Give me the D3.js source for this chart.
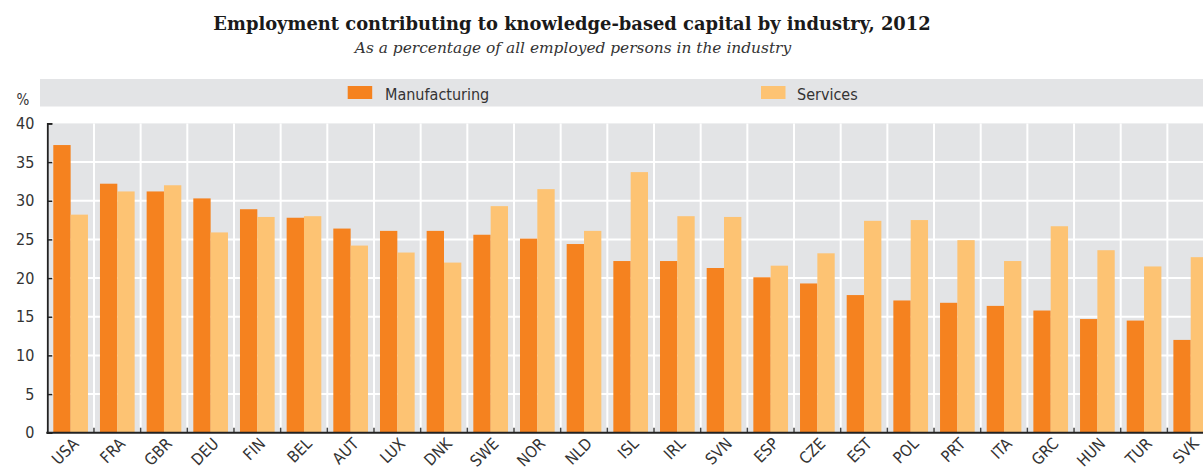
<!DOCTYPE html>
<html>
<head>
<meta charset="utf-8">
<script src="https://cdn.jsdelivr.net/npm/d3@7"></script>
<style>
  html, body { margin: 0; padding: 0; background: #fff; }
  svg { display: block; }
</style>
</head>
<body>
<svg id="chart" width="1203" height="473"></svg>
<script>
// ---- Data ----
const countries = ["USA","FRA","GBR","DEU","FIN","BEL","AUT","LUX","DNK","SWE","NOR","NLD","ISL","IRL","SVN","ESP","CZE","EST","POL","PRT","ITA","GRC","HUN","TUR","SVK"];
const manufacturing = [37.2,32.2,31.2,30.3,28.9,27.8,26.4,26.1,26.1,25.6,25.1,24.4,22.2,22.2,21.3,20.1,19.3,17.8,17.1,16.8,16.4,15.8,14.7,14.5,12.0];
const services      = [28.2,31.2,32.0,25.9,27.9,28.0,24.2,23.3,22.0,29.3,31.5,26.1,33.7,28.0,27.9,21.6,23.2,27.4,27.5,24.9,22.2,26.7,23.6,21.5,22.7];
const seriesNames = ["Manufacturing","Services"];
const yTicks = [0,5,10,15,20,25,30,35,40];
const titleText = "Employment contributing to knowledge-based capital by industry, 2012";
const subtitleText = "As a percentage of all employed persons in the industry";

// ---- Style ----
const colors = { "Manufacturing": "#F5821F", "Services": "#FDC373" };
const gridBg = "#E3E4E6";
const narrow = "'Liberation Sans Narrow', 'DejaVu Sans Condensed', 'Arial Narrow', sans-serif";
const serif = "'DejaVu Serif', 'Liberation Serif', serif";

const svg = d3.select("#chart");
const plotLeft = 47.3, plotTop = 123.4, plotBottom = 432.7;
const bandW = 46.67;
const plotRight = plotLeft + bandW * countries.length;

const x = d3.scaleBand().domain(countries).range([plotLeft, plotRight]).padding(0);
const xInner = d3.scaleBand().domain(seriesNames).range([6, x.bandwidth() - 6]).padding(0);
const y = d3.scaleLinear().domain([0, 40]).range([plotBottom, plotTop]);

// Title
const title = svg.append("text")
  .attr("x", 572).attr("y", 30)
  .attr("text-anchor", "middle")
  .style("font-family", serif).style("font-weight", "bold")
  .style("font-size", "19px").attr("fill", "#1a1a1a")
  .text(titleText);
{
  const w = title.node().getComputedTextLength();
  title.style("font-size", (19 * 718 / w) + "px");
}
const sub = svg.append("text")
  .attr("x", 573).attr("y", 53)
  .attr("text-anchor", "middle")
  .style("font-family", serif).style("font-style", "italic")
  .style("font-size", "14px").attr("fill", "#333")
  .text(subtitleText);
{
  const w = sub.node().getComputedTextLength();
  sub.style("font-size", (14 * 437 / w) + "px");
}

// Legend band
svg.append("rect").attr("x", 40).attr("y", 79).attr("width", 1203 - 40).attr("height", 27.5).attr("fill", gridBg);
const legendPos = [{sx: 347.7, tx: 385}, {sx: 761, tx: 797}];
seriesNames.forEach((s, i) => {
  svg.append("rect").attr("x", legendPos[i].sx).attr("y", 86).attr("width", 24.5).attr("height", 13).attr("fill", colors[s]);
  svg.append("text").attr("x", legendPos[i].tx).attr("y", 99.5)
    .style("font-family", narrow).style("font-size", "16px").attr("fill", "#333").text(s);
});

// Y unit label
svg.append("text").attr("x", 23).attr("y", 105).attr("text-anchor", "middle")
  .style("font-family", narrow).style("font-size", "15px").attr("fill", "#333").text("%");

// Plot background
svg.append("rect").attr("x", plotLeft).attr("y", plotTop).attr("width", plotRight - plotLeft).attr("height", plotBottom - plotTop).attr("fill", gridBg);

// Horizontal gridlines
svg.append("g").selectAll("line").data(yTicks.filter(t => t > 0 && t < 40)).join("line")
  .attr("x1", plotLeft).attr("x2", plotRight)
  .attr("y1", d => y(d)).attr("y2", d => y(d))
  .attr("stroke", "#fff").attr("stroke-width", 2);

// Vertical gridlines at category boundaries
svg.append("g").selectAll("line").data(countries.slice(1)).join("line")
  .attr("x1", d => x(d)).attr("x2", d => x(d))
  .attr("y1", plotTop).attr("y2", plotBottom)
  .attr("stroke", "#fff").attr("stroke-width", 2);

// Bars
const groups = svg.append("g").selectAll("g").data(countries).join("g")
  .attr("transform", d => `translate(${x(d)},0)`);
groups.selectAll("rect").data((d, i) => [
    {s: "Manufacturing", v: manufacturing[i]},
    {s: "Services", v: services[i]}
  ]).join("rect")
  .attr("x", d => xInner(d.s))
  .attr("width", xInner.bandwidth())
  .attr("y", d => y(d.v))
  .attr("height", d => y(0) - y(d.v))
  .attr("fill", d => colors[d.s]);

// Y axis
const yAxis = d3.axisLeft(y).tickValues(yTicks).tickSize(-5).tickPadding(13);
const yg = svg.append("g").attr("transform", `translate(${plotLeft},0)`).call(yAxis);
yg.select(".domain").attr("stroke", "#222").attr("stroke-width", 1.8);
yg.selectAll(".tick line").attr("stroke", "#222").attr("stroke-width", 1.5);
yg.selectAll(".tick text").style("font-family", narrow).style("font-size", "16px").attr("fill", "#333");

// X axis
svg.append("g").selectAll("line").data(countries.slice(1)).join("line")
  .attr("x1", d => x(d)).attr("x2", d => x(d))
  .attr("y1", plotBottom).attr("y2", plotBottom - 5)
  .attr("stroke", "#444").attr("stroke-width", 1.5);
svg.append("line").attr("x1", plotLeft - 1).attr("x2", plotRight)
  .attr("y1", plotBottom).attr("y2", plotBottom)
  .attr("stroke", "#222").attr("stroke-width", 2);

svg.append("g").selectAll("text").data(countries).join("text")
  .attr("transform", d => `translate(${x(d) + x.bandwidth() / 2 + 9},${plotBottom + 12}) rotate(-45)`)
  .attr("text-anchor", "end")
  .style("font-family", narrow).style("font-size", "16px").attr("fill", "#333")
  .text(d => d);
</script>
</body>
</html>
